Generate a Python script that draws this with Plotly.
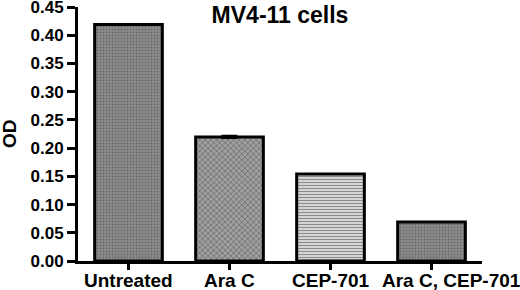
import plotly.graph_objects as go

categories = ["Untreated", "Ara C", "CEP-701", "Ara C, CEP-701"]
od_values = [0.419, 0.220, 0.154, 0.069]
od_errors = [0.0, 0.002, 0.0, 0.0]
y_ticks = [0.00, 0.05, 0.10, 0.15, 0.20, 0.25, 0.30, 0.35, 0.40, 0.45]

bg_colors = ["#8c8c8c", "#a0a0a0", "#d4d4d4", "#8c8c8c"]
fg_colors = ["#7e7e7e", "#5a5a5a", "#a0a0a0", "#7e7e7e"]
shapes = [".", "x", "-", "."]
sizes = [3, 4, 3, 3]
solids = [0.3, 0.4, 0.35, 0.3]

FONT = "Arial, Liberation Sans, Helvetica, sans-serif"

fig = go.Figure(go.Bar(
    x=list(range(len(categories))), y=od_values, width=0.67,
    error_y=dict(type="data", array=od_errors, color="black", thickness=2, width=8, visible=True),
    marker=dict(
        color=bg_colors,
        line=dict(color="black", width=3),
        pattern=dict(shape=shapes, fgcolor=fg_colors,
                     size=sizes, solidity=solids, fillmode="overlay"),
    ),
    hovertext=categories,
    showlegend=False,
))

fig.update_layout(
    width=520, height=290,
    margin=dict(l=78, r=38, t=7, b=29, autoexpand=False),
    plot_bgcolor="white", paper_bgcolor="white",
    font=dict(family=FONT, color="black"),
    title=dict(text="MV4-11 cells", x=280 / 520, xanchor="center",
               y=1 - 15 / 290, yanchor="middle",
               font=dict(family=FONT, size=23, weight="bold", color="black")),
)
fig.update_xaxes(
    range=[-0.5, 3.5], showline=True, linecolor="black", linewidth=3,
    tickvals=list(range(len(categories))), showticklabels=False,
    ticks="outside", ticklen=6, tickwidth=3, tickcolor="black",
    automargin=False, showgrid=False, zeroline=False,
)
fig.update_yaxes(
    range=[0, 0.4502], tickvals=y_ticks, ticktext=[f"{v:.2f}" for v in y_ticks],
    showline=True, linecolor="black", linewidth=3, automargin=False,
    ticks="outside", ticklen=8, tickwidth=3, tickcolor="black", ticklabeloverflow="allow",
    tickfont=dict(family=FONT, size=17, weight="bold"), showgrid=False, zeroline=False,
)

# category labels (last one is shifted right as in the reference)
label_shift = [0, 0, 0, 20]
for i, (cat, sh) in enumerate(zip(categories, label_shift)):
    fig.add_annotation(text=cat, x=i, xref="x", y=(261 - 280) / 254, yref="paper",
                       xanchor="center", yanchor="middle", xshift=sh, showarrow=False,
                       font=dict(family=FONT, size=19, weight="bold", color="black"))

fig.add_annotation(text="OD", xref="paper", yref="paper", x=(9 - 78) / 404, y=(261 - 134) / 254,
                   textangle=-90, showarrow=False, xanchor="center", yanchor="middle",
                   font=dict(family=FONT, size=19, weight="bold", color="black"))

fig.write_html("out.html", config={"displayModeBar": False},
               post_script="document.body.style.margin='0';document.body.style.overflow='hidden';")
